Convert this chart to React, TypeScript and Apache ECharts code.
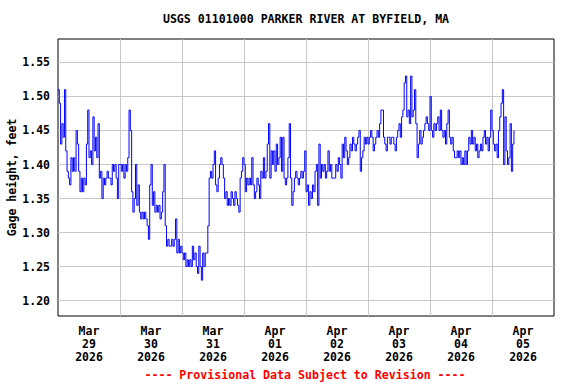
import React, { useEffect, useRef } from "react";
import * as echarts from "echarts";

// Gage height (feet), 30-minute readings, starting 00:00 each day
const mar29 = [1.51,1.49,1.43,1.46,1.44,1.51,1.42,1.39,1.38,1.37,1.41,1.39,1.41,1.39,1.45,1.43,1.39,1.36,1.38,1.36,1.38,1.37,1.43,1.48,1.41,1.42,1.40,1.47,1.42,1.44,1.41,1.46,1.38,1.39,1.35,1.38,1.37,1.38,1.39,1.38,1.38,1.37,1.40,1.39,1.40,1.38,1.35,1.40];
const mar30 = [1.40,1.39,1.40,1.38,1.40,1.39,1.41,1.48,1.45,1.36,1.33,1.35,1.40,1.34,1.37,1.33,1.32,1.33,1.32,1.33,1.32,1.31,1.29,1.37,1.40,1.34,1.36,1.33,1.34,1.33,1.34,1.32,1.33,1.36,1.40,1.31,1.28,1.29,1.28,1.28,1.29,1.28,1.29,1.32,1.27,1.29,1.27,1.28];
const mar31 = [1.27,1.26,1.27,1.25,1.26,1.25,1.26,1.25,1.28,1.26,1.27,1.25,1.24,1.28,1.25,1.23,1.27,1.25,1.27,1.27,1.31,1.38,1.39,1.38,1.40,1.42,1.37,1.36,1.38,1.40,1.41,1.40,1.38,1.35,1.36,1.34,1.35,1.34,1.36,1.35,1.34,1.36,1.35,1.34,1.33,1.38,1.39,1.41];
const apr01 = [1.40,1.36,1.38,1.37,1.38,1.37,1.41,1.37,1.35,1.36,1.38,1.37,1.35,1.39,1.38,1.41,1.38,1.39,1.43,1.46,1.38,1.42,1.40,1.42,1.39,1.43,1.40,1.41,1.44,1.39,1.44,1.38,1.37,1.38,1.41,1.46,1.38,1.34,1.36,1.38,1.39,1.38,1.37,1.38,1.39,1.38,1.39,1.42];
const apr02 = [1.36,1.37,1.34,1.36,1.35,1.37,1.36,1.39,1.40,1.34,1.43,1.38,1.40,1.39,1.40,1.38,1.39,1.42,1.39,1.40,1.38,1.38,1.38,1.40,1.39,1.41,1.40,1.38,1.43,1.41,1.44,1.42,1.40,1.41,1.43,1.42,1.44,1.43,1.42,1.43,1.44,1.45,1.39,1.41,1.42,1.44,1.43,1.44];
const apr03 = [1.43,1.44,1.45,1.44,1.42,1.43,1.44,1.45,1.44,1.46,1.48,1.48,1.44,1.43,1.42,1.44,1.44,1.43,1.44,1.44,1.43,1.42,1.44,1.45,1.46,1.44,1.47,1.48,1.52,1.53,1.47,1.48,1.46,1.53,1.47,1.48,1.51,1.46,1.41,1.43,1.45,1.43,1.44,1.45,1.46,1.47,1.46,1.45];
const apr04 = [1.50,1.45,1.44,1.46,1.45,1.46,1.47,1.45,1.48,1.45,1.44,1.45,1.43,1.46,1.48,1.44,1.43,1.44,1.42,1.41,1.41,1.42,1.41,1.42,1.40,1.41,1.40,1.42,1.40,1.42,1.44,1.43,1.45,1.43,1.44,1.42,1.43,1.41,1.42,1.43,1.42,1.44,1.45,1.43,1.44,1.42,1.44,1.48];
const apr05 = [1.45,1.43,1.42,1.43,1.41,1.45,1.47,1.49,1.51,1.40,1.47,1.42,1.40,1.41,1.46,1.39,1.43,1.45];

const dailySeries = [mar29, mar30, mar31, apr01, apr02, apr03, apr04, apr05];

const yTicks = [1.2, 1.25, 1.3, 1.35, 1.4, 1.45, 1.5, 1.55];
const yMin = 1.1774;
const yMax = 1.5844;

const DAY = 24 * 3600 * 1000;
const STEP = 30 * 60 * 1000;
const START = Date.UTC(2026, 2, 29);
const END = Date.UTC(2026, 3, 6);
const MONTHS = ["Jan", "Feb", "Mar", "Apr", "May", "Jun", "Jul", "Aug", "Sep", "Oct", "Nov", "Dec"];

const dayStarts = [1, 2, 3, 4, 5, 6, 7].map((d) => START + d * DAY);
const dayNoons = [0, 1, 2, 3, 4, 5, 6, 7].map((d) => START + d * DAY + DAY / 2);

const TITLE = "USGS 01101000 PARKER RIVER AT BYFIELD, MA";
const FOOTER = "---- Provisional Data Subject to Revision ----";
const Y_NAME = "Gage height, feet";

const FONT = "DejaVu Sans Mono";

export default function App() {
  const ref = useRef<HTMLDivElement>(null);
  useEffect(() => {
    if (!ref.current) return;
    const chart = echarts.init(ref.current, null, { renderer: "svg" });
    const data: [number, number][] = [];
    dailySeries.forEach((arr, d) => {
      arr.forEach((v, i) => data.push([START + d * DAY + i * STEP, v]));
    });
    chart.setOption({
      animation: false,
      backgroundColor: "#ffffff",
      grid: {
        left: 58,
        top: 39,
        width: 496,
        height: 277,
        show: true,
        borderColor: "#000000",
        borderWidth: 1,
        backgroundColor: "transparent",
        outerBoundsMode: "none",
        containLabel: false,
      },
      graphic: [
        {
          type: "text",
          x: 306,
          y: 19,
          style: {
            text: TITLE,
            fill: "#000000",
            font: `bold 11.6px "${FONT}"`,
            align: "center",
            verticalAlign: "middle",
          },
        },
        {
          type: "text",
          x: 305,
          y: 375,
          style: {
            text: FOOTER,
            fill: "#ff0000",
            font: `bold 11.6px "${FONT}"`,
            align: "center",
            verticalAlign: "middle",
          },
        },
      ],
      xAxis: {
        type: "value",
        min: START,
        max: END,
        axisLine: { show: false },
        axisTick: { show: false, customValues: dayStarts },
        splitLine: { show: true, lineStyle: { color: "#c8c8c8", width: 1 } },
        axisLabel: {
          customValues: dayNoons,
          margin: 8,
          color: "#000000",
          fontFamily: FONT,
          fontWeight: "bold",
          fontSize: 11.5,
          lineHeight: 13,
          formatter: (v: number) => {
            const d = new Date(v);
            const dd = String(d.getUTCDate()).padStart(2, "0");
            return `${MONTHS[d.getUTCMonth()]}\n${dd}\n${d.getUTCFullYear()}`;
          },
        },
      },
      yAxis: {
        type: "value",
        min: yMin,
        max: yMax,
        name: Y_NAME,
        nameLocation: "middle",
        nameGap: 40,
        nameMoveOverlap: false,
        nameTextStyle: {
          color: "#000000",
          fontFamily: FONT,
          fontWeight: "bold",
          fontSize: 11.5,
        },
        axisLine: { show: false },
        axisTick: { show: false, customValues: yTicks },
        splitLine: { show: true, lineStyle: { color: "#c8c8c8", width: 1 } },
        axisLabel: {
          customValues: yTicks,
          margin: 8,
          color: "#000000",
          fontFamily: FONT,
          fontWeight: "bold",
          fontSize: 11.5,
          formatter: (v: number) => v.toFixed(2),
        },
      },
      series: [
        {
          type: "line",
          data,
          step: "end",
          showSymbol: false,
          symbol: "none",
          lineStyle: { color: "#0000ff", width: 1 },
          itemStyle: { color: "#0000ff" },
          clip: true,
        },
      ],
    });
    return () => chart.dispose();
  }, []);
  return (
    <div
      ref={ref}
      style={{ position: "fixed", left: 0, top: 0, width: 576, height: 384, background: "#fff" }}
    />
  );
}
